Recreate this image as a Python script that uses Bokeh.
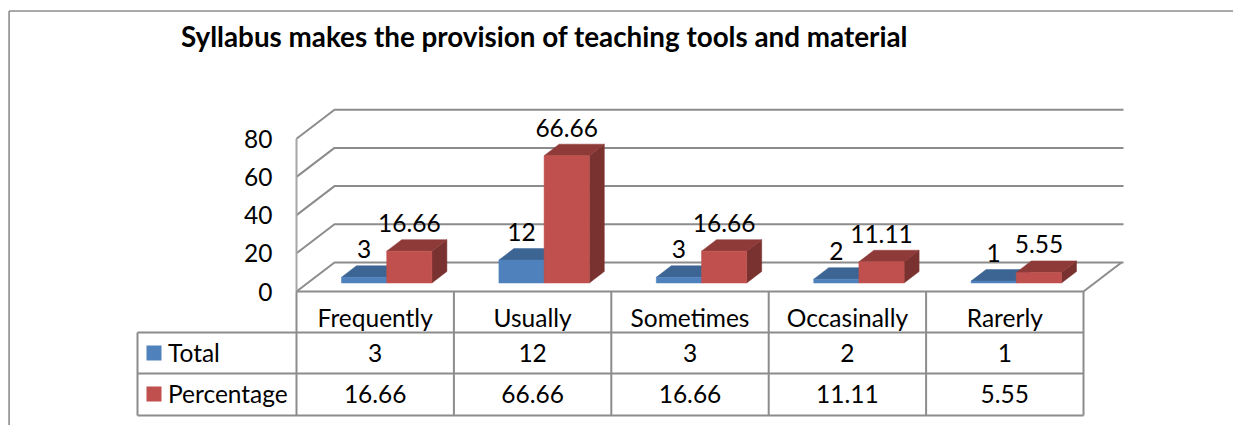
from bokeh.plotting import figure
from bokeh.models import Range1d, LinearAxis, FixedTicker, ColumnDataSource
from bokeh.core.properties import value
from bokeh.embed import file_html
from bokeh.resources import INLINE

TITLE = "Syllabus makes the provision of teaching tools and material"
categories = ["Frequently", "Usually", "Sometimes", "Occasinally", "Rarerly"]
total = [3, 12, 3, 2, 1]
percentage = [16.66, 66.66, 16.66, 11.11, 5.55]
total_labels = ["3", "12", "3", "2", "1"]
percentage_labels = ["16.66", "66.66", "16.66", "11.11", "5.55"]
y_ticks = [0, 20, 40, 60, 80]

FONT = "Lato"
W, H = 1233, 425
PAGE = 0
X0, CAT_W = 296.0, 157.4      # page px of category 0, px per category
Y0, PX_V = 291.0, 1.91        # page px of value 0, px per value unit
GRID = "#8c8c8c"
FS = "24.5px"


def X(px):
    return (px - X0) / CAT_W


def Y(py):
    return (Y0 - py) / PX_V


p = figure(width=W, height=H, output_backend="svg", toolbar_location=None,
           x_range=Range1d(X(PAGE), X(PAGE + W)), y_range=Range1d(Y(PAGE + H), Y(PAGE)),
           x_axis_location=None, y_axis_location=None, min_border=0,
           outline_line_color=None, background_fill_color="white", border_fill_color="white")
p.grid.visible = False

n = len(categories)
wall_dx, wall_dy = 38 / CAT_W, 29 / PX_V
depth_dx, depth_dy = 15 / CAT_W, 11.5 / PX_V
bar_w = 45.2 / CAT_W
bar_left = 45 / CAT_W
base_v = 8.5 / PX_V

# chart border
p.line([X(8.6), X(8.6)], [Y(425), Y(10.5)], line_color=GRID, line_width=1.6)
p.line([X(8.6), X(1233)], [Y(10.5), Y(10.5)], line_color=GRID, line_width=1.6)

# walls and floor
for t in y_ticks:
    p.line([0, wall_dx, wall_dx + X(1085)], [t, t + wall_dy, t + wall_dy],
           line_color=GRID, line_width=2)
p.line([0, 0], [y_ticks[0], y_ticks[-1]], line_color="#a6a6a6", line_width=2)
p.line([n, n + wall_dx], [0, wall_dy], line_color=GRID, line_width=2)

# table lines
row1, row2, row3 = Y(332), Y(373), Y(415)
tbl_left = X(137)
for i in range(n + 1):
    p.line([i, i], [0, row3], line_color=GRID, line_width=2)
p.line([0, n], [0, 0], line_color=GRID, line_width=2)
for r in (row1, row2, row3):
    p.line([tbl_left, n], [r, r], line_color=GRID, line_width=2)
p.line([tbl_left, tbl_left], [row1, row3], line_color=GRID, line_width=2)


def bars(vals, offset, front, top, side):
    fx, fy, tx, ty, sx, sy = [], [], [], [], [], []
    for i, v in enumerate(vals):
        l = i + bar_left + offset
        r = l + bar_w
        b = base_v
        h = base_v + v
        fx.append([l, r, r, l]); fy.append([b, b, h, h])
        tx.append([l, r, r + depth_dx, l + depth_dx]); ty.append([h, h, h + depth_dy, h + depth_dy])
        sx.append([r, r + depth_dx, r + depth_dx, r]); sy.append([b, b + depth_dy, h + depth_dy, h])
    p.patches(sx, sy, fill_color=side, line_color=side, line_width=0.5)
    p.patches(tx, ty, fill_color=top, line_color=top, line_width=0.5)
    p.patches(fx, fy, fill_color=front, line_color=front, line_width=0.5)


bars(total, 0, "#4f81bd", "#3c6594", "#2f4f76")
bars(percentage, bar_w, "#c0504d", "#8e3a38", "#7a3230")

# data labels above bars
lab_up = 16.5 / PX_V
for vals, labels, off in ((total, total_labels, 0), (percentage, percentage_labels, bar_w)):
    src = ColumnDataSource(dict(
        x=[i + bar_left + off + bar_w / 2 for i in range(n)],
        y=[base_v + v + depth_dy + lab_up for v in vals],
        t=labels))
    p.text("x", "y", text="t", source=src, text_font=value(FONT), text_font_size=value(FS),
           text_align="center", text_baseline="middle", text_color="black")

# axes
yax = LinearAxis(fixed_location=0, ticker=FixedTicker(ticks=y_ticks), axis_line_color=None,
                 major_tick_line_color=None, minor_tick_line_color=None, major_label_standoff=18,
                 major_label_text_font=FONT, major_label_text_font_size=FS, major_label_text_color="black")
p.add_layout(yax, "left")
xax = LinearAxis(fixed_location=0, ticker=FixedTicker(ticks=[i + 0.5 for i in range(n)]),
                 major_label_overrides={i + 0.5: c for i, c in enumerate(categories)},
                 axis_line_color=None, major_tick_line_color=None, minor_tick_line_color=None,
                 major_label_standoff=5, major_label_text_font=FONT, major_label_text_font_size=FS,
                 major_label_text_color="black")
p.add_layout(xax, "below")

# table values
mid = [i + 0.5 for i in range(n)]
for labels, py in ((total_labels, 352), (percentage_labels, 393)):
    p.text(mid, [Y(py)] * n, text=labels, text_font=value(FONT), text_font_size=value(FS),
           text_align="center", text_baseline="middle", text_color="black")

# legend keys in the table
for name, color, py, ky in (("Total", "#4f81bd", 352, 352.5), ("Percentage", "#c0504d", 393, 393.5)):
    p.quad(left=[X(146)], right=[X(161)], bottom=[Y(ky + 7.5)], top=[Y(ky - 7.5)],
           fill_color=color, line_color=None)
    p.text([X(167.5)], [Y(py)], text=[name], text_font=value(FONT), text_font_size=value(FS),
           text_align="left", text_baseline="middle", text_color="black")

# title
p.text([X(180.5)], [Y(36)], text=[TITLE], text_font=value(FONT), text_font_size=value("27.8px"),
       text_font_style="bold", text_align="left", text_baseline="middle", text_color="black")

open("out.html", "w").write(file_html(p, INLINE))
